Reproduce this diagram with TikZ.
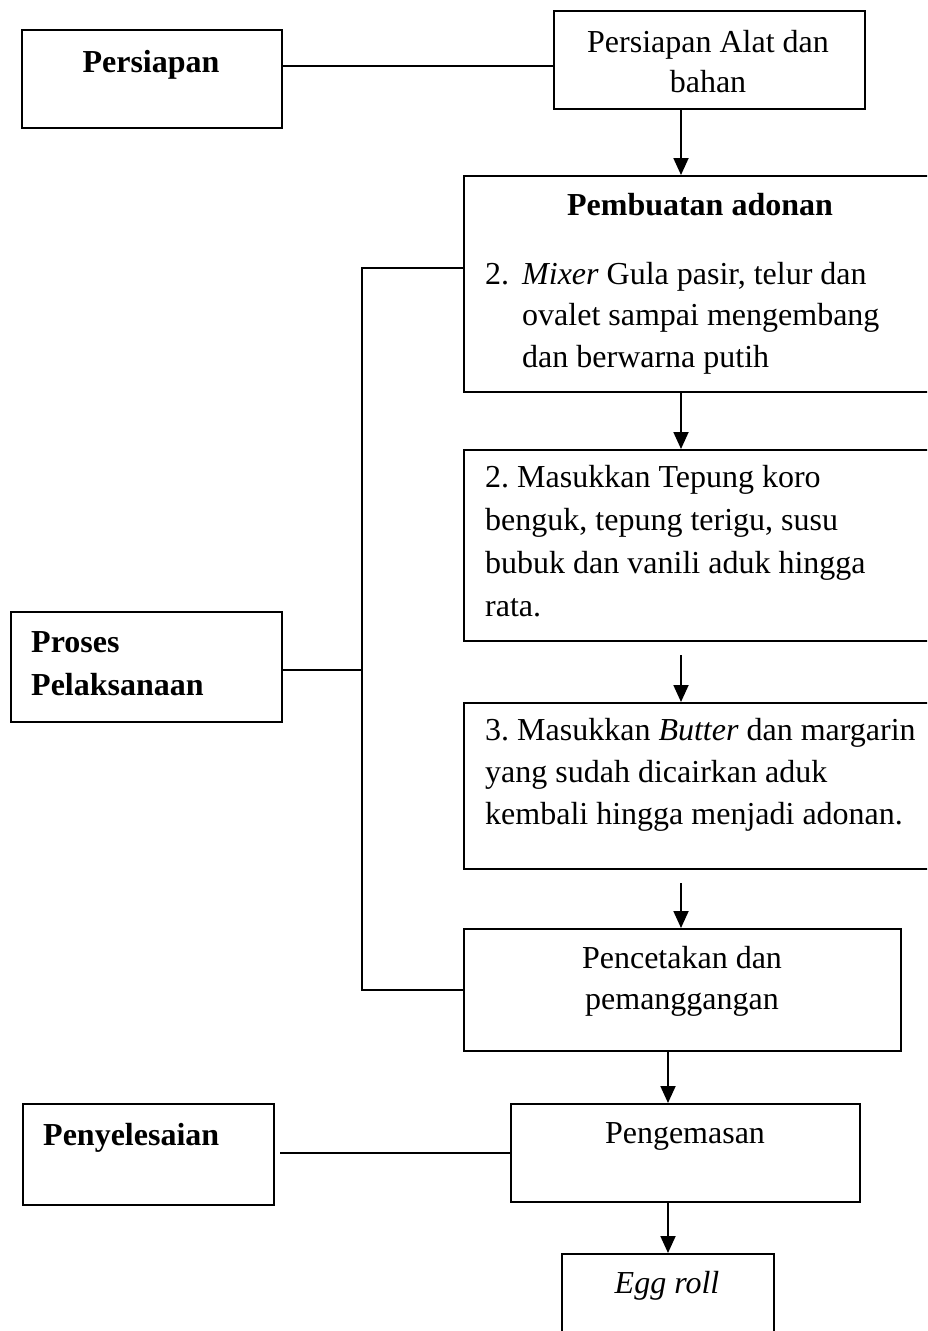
\documentclass[tikz,border=0pt]{standalone}
\usepackage{fontspec}
\setmainfont{Liberation Serif}
\usetikzlibrary{arrows.meta}
\frenchspacing
\begin{document}
\begin{tikzpicture}[x=1pt,y=-1pt,
  box/.style={draw, line width=1.8pt, inner sep=0pt, anchor=north west},
  txt/.style={inner sep=0pt, font=\fontsize{32}{42}\selectfont},
  tl/.style={txt, anchor=base west},
  tc/.style={txt, anchor=base},
  conn/.style={line width=1.8pt},
  arr/.style={line width=1.8pt, -{Triangle[length=17pt,width=15pt]}}]
\useasboundingbox (0,0) rectangle (927,1331);
\fill[white] (0,0) rectangle (927,1331);
\begin{scope}
\clip (0,0) rectangle (927,1331);
% boxes
\node[box, minimum width=260pt, minimum height=98pt] (persBox) at (21,29) {};
\node[box, minimum width=311pt, minimum height=98pt] (alatBox) at (553,10) {};
\node[box, minimum width=477pt, minimum height=216pt] (pembBox) at (463,175) {};
\node[box, minimum width=477pt, minimum height=191pt] (tepBox) at (463,449) {};
\node[box, minimum width=477pt, minimum height=166pt] (butBox) at (463,702) {};
\node[box, minimum width=437pt, minimum height=122pt] (pencBox) at (463,928) {};
\node[box, minimum width=271pt, minimum height=110pt] (prosBox) at (10,611) {};
\node[box, minimum width=251pt, minimum height=101pt] (penyBox) at (22,1103) {};
\node[box, minimum width=349pt, minimum height=98pt] (kemasBox) at (510,1103) {};
\node[box, minimum width=212pt, minimum height=120pt] (eggBox) at (561,1253) {};
% texts
\node[tc, font=\fontsize{32}{42}\selectfont\bfseries] (tPers) at (151,72) {Persiapan};
\node[tc] (tAlat1) at (708,52) {Persiapan Alat dan};
\node[tc] (tAlat2) at (708,92) {bahan};
\node[tc, font=\fontsize{32}{42}\selectfont\bfseries] (tPemb) at (700,215) {Pembuatan adonan};
\node[tl] (tMix0) at (485,284) {2.};
\node[tl] (tMix1) at (522,284) {\textit{Mixer} Gula pasir, telur dan};
\node[tl] (tMix2) at (522,325) {ovalet sampai mengembang};
\node[tl] (tMix3) at (522,367) {dan berwarna putih};
\node[tl] (tTep1) at (485,487) {2. Masukkan Tepung koro};
\node[tl] (tTep2) at (485,530) {benguk, tepung terigu, susu};
\node[tl] (tTep3) at (485,573) {bubuk dan vanili aduk hingga};
\node[tl] (tTep4) at (485,616) {rata.};
\node[tl] (tBut1) at (485,740) {3. Masukkan \textit{Butter} dan margarin};
\node[tl] (tBut2) at (485,782) {yang sudah dicairkan aduk};
\node[tl] (tBut3) at (485,824) {kembali hingga menjadi adonan.};
\node[tc] (tPenc1) at (682,968) {Pencetakan dan};
\node[tc] (tPenc2) at (682,1009) {pemanggangan};
\node[tl, font=\fontsize{32}{42}\selectfont\bfseries] (tPros1) at (31,652) {Proses};
\node[tl, font=\fontsize{32}{42}\selectfont\bfseries] (tPros2) at (31,695) {Pelaksanaan};
\node[tl, font=\fontsize{32}{42}\selectfont\bfseries] (tPeny) at (43,1145) {Penyelesaian};
\node[tc] (tKemas) at (685,1143) {Pengemasan};
\node[tc] (tEgg) at (667,1293) {\textit{Egg roll}};
% helper coordinates
\coordinate (yPers) at (0,66);
\coordinate (xA) at (681,0);
\coordinate (xB) at (668,0);
\coordinate (s2) at (681,655);
\coordinate (s3) at (681,883);
\coordinate (brTop) at (362,268);
\coordinate (brMid) at (362,670);
\coordinate (brBot) at (362,990);
\coordinate (penyStart) at (280,1153);
% connectors
\draw[conn] (persBox.east |- yPers) -- (alatBox.west |- yPers);
\draw[arr] (alatBox.south -| xA) -- (pembBox.north -| xA);
\draw[arr] (pembBox.south -| xA) -- (tepBox.north -| xA);
\draw[arr] (s2) -- (butBox.north -| xA);
\draw[arr] (s3) -- (pencBox.north -| xA);
\draw[arr] (pencBox.south -| xB) -- (kemasBox.north -| xB);
\draw[arr] (kemasBox.south -| xB) -- (eggBox.north -| xB);
\draw[conn] (prosBox.east |- brMid) -- (brMid);
\draw[conn] (pembBox.west |- brTop) -- (brTop) -- (brBot) -- (pencBox.west |- brBot);
\draw[conn] (penyStart) -- (kemasBox.west |- penyStart);
\end{scope}
\end{tikzpicture}
\end{document}
